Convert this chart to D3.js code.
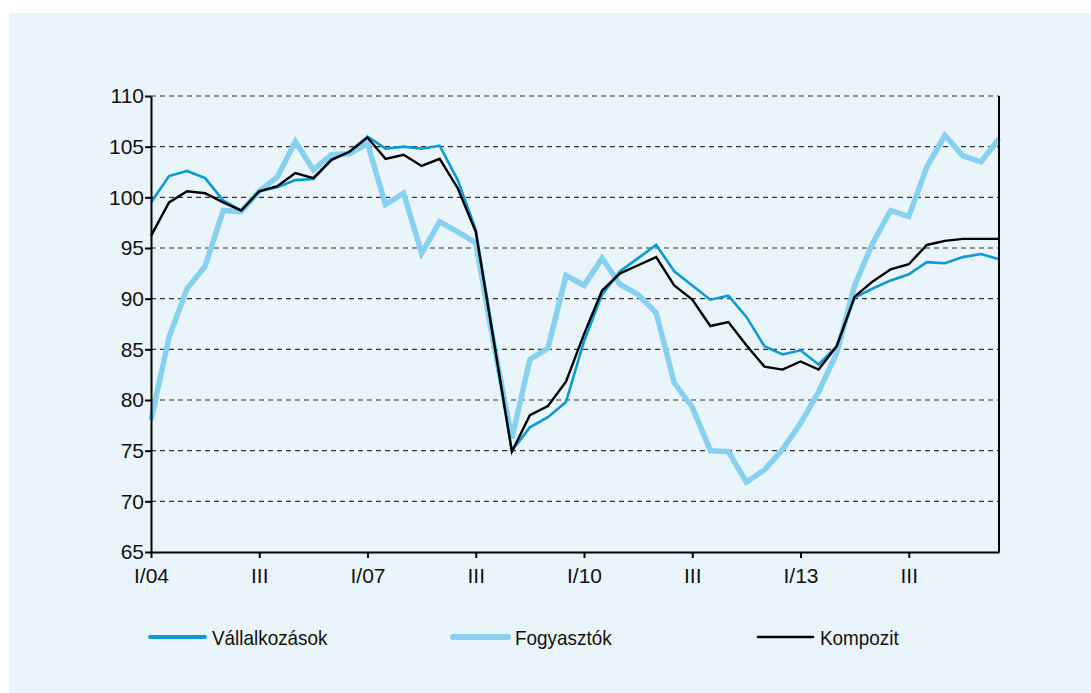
<!DOCTYPE html>
<html>
<head>
<meta charset="utf-8">
<script src="https://cdn.jsdelivr.net/npm/d3@7"></script>
<style>
  html, body { margin: 0; padding: 0; background: #ffffff; }
  svg { display: block; font-family: "Liberation Sans", Arial, sans-serif; }
</style>
</head>
<body>
<svg width="1091" height="693"></svg>
<script>
// Quarterly data, I/2004 - IV/2015
const years = ["04","05","06","07","08","09","10","11","12","13","14","15"];
const quarterNames = ["I", "II", "III", "IV"];
const quarters = [];
years.forEach(y => quarterNames.forEach(q => quarters.push(q + "/" + y)));

const tickQuarters = ["I/04", "III/05", "I/07", "III/08", "I/10", "III/11", "I/13", "III/14"];
const tickLabels = ["I/04", "III", "I/07", "III", "I/10", "III", "I/13", "III"];
const yTicks = [65, 70, 75, 80, 85, 90, 95, 100, 105, 110];

const vallalkozasok = [99.5, 102.1, 102.6, 101.9, 99.7, 98.7, 100.6, 101.0, 101.7, 101.8,
    103.7, 104.5, 106.0, 104.8, 105.0, 104.8, 105.1, 101.7, 96.8, 85.9,
    75.0, 77.3, 78.3, 79.8, 85.8, 90.4, 92.7, 94.0, 95.3, 92.7,
    91.3, 89.9, 90.3, 88.2, 85.3, 84.5, 84.9, 83.5, 85.3, 90.1,
    91.0, 91.8, 92.4, 93.6, 93.5, 94.1, 94.4, 93.9];

const fogyasztok = [78.0, 86.2, 91.0, 93.2, 98.7, 98.6, 100.6, 102.0, 105.5, 102.7,
    104.2, 104.3, 105.3, 99.3, 100.4, 94.5, 97.6, 96.6, 95.5, 85.5,
    76.2, 84.0, 85.1, 92.3, 91.3, 94.0, 91.4, 90.4, 88.6, 81.7,
    79.3, 75.0, 74.9, 71.9, 73.1, 75.1, 77.7, 80.8, 84.6, 91.3,
    95.5, 98.7, 98.1, 103.0, 106.1, 104.1, 103.5, 105.8];

const kompozit = [96.2, 99.5, 100.6, 100.4, 99.5, 98.7, 100.6, 101.1, 102.4, 101.9,
    103.7, 104.5, 105.9, 103.8, 104.2, 103.1, 103.8, 100.9, 96.6, 85.8,
    74.9, 78.5, 79.4, 81.8, 86.5, 90.8, 92.5, 93.3, 94.1, 91.3,
    89.9, 87.3, 87.7, 85.4, 83.3, 83.0, 83.8, 83.0, 85.3, 90.2,
    91.7, 92.9, 93.4, 95.3, 95.7, 95.9, 95.9, 95.9];

const series = [
    { name: "Fogyasztók", values: fogyasztok, color: "#86d0f1", width: 5.5, legendWidth: 6 },
    { name: "Vállalkozások", values: vallalkozasok, color: "#0a9ad6", width: 2.6, legendWidth: 4 },
    { name: "Kompozit", values: kompozit, color: "#000000", width: 2.4, legendWidth: 2.6 }
];

const svg = d3.select("svg");

// light blue panel
svg.append("rect")
    .attr("x", 9).attr("y", 13)
    .attr("width", 1091 - 9).attr("height", 693 - 13)
    .attr("fill", "#eaf4fb");

const plotLeft = 151, plotRight = 999, plotTop = 96, plotBottom = 552;

const x = d3.scalePoint().domain(quarters).range([plotLeft, plotRight]);
const y = d3.scaleLinear().domain([65, 110]).range([plotBottom, plotTop]);

// dashed grid
svg.append("g")
    .selectAll("line")
    .data(yTicks.filter(d => d > 65))
    .join("line")
    .attr("x1", plotLeft).attr("x2", plotRight)
    .attr("y1", d => y(d)).attr("y2", d => y(d))
    .attr("stroke", "#333")
    .attr("stroke-width", 1.2)
    .attr("stroke-dasharray", "5,4");

// lines
const line = d3.line()
    .x((d, i) => x(quarters[i]))
    .y(d => y(d));

svg.append("g")
    .selectAll("path")
    .data(series)
    .join("path")
    .attr("d", d => line(d.values))
    .attr("fill", "none")
    .attr("stroke", d => d.color)
    .attr("stroke-width", d => d.width)
    .attr("stroke-linejoin", "miter");

// right frame line
svg.append("line")
    .attr("x1", plotRight).attr("x2", plotRight)
    .attr("y1", plotTop).attr("y2", plotBottom)
    .attr("stroke", "#000").attr("stroke-width", 2);

// y axis
const yAxis = svg.append("g")
    .attr("transform", `translate(${plotLeft},0)`)
    .call(d3.axisLeft(y).tickValues(yTicks).tickSize(6).tickPadding(1).tickSizeOuter(0));
yAxis.select(".domain").attr("stroke", "#000").attr("stroke-width", 2);
yAxis.selectAll(".tick line").attr("stroke", "#000").attr("stroke-width", 2);
yAxis.selectAll("text")
    .attr("font-size", 21)
    .attr("fill", "#111")
    .attr("font-family", "'Liberation Sans', Arial, sans-serif");

// x axis
const xAxis = svg.append("g")
    .attr("transform", `translate(0,${plotBottom})`)
    .call(d3.axisBottom(x)
        .tickValues(tickQuarters)
        .tickFormat((d, i) => tickLabels[i])
        .tickSize(6).tickPadding(10).tickSizeOuter(0));
xAxis.select(".domain").attr("stroke", "#000").attr("stroke-width", 2);
xAxis.selectAll(".tick line").attr("stroke", "#000").attr("stroke-width", 2);
xAxis.selectAll("text")
    .attr("font-size", 21)
    .attr("fill", "#111")
    .attr("font-family", "'Liberation Sans', Arial, sans-serif");

// legend (text slightly condensed like the original)
const legendItems = [
    { s: series[1], x: 150 },
    { s: series[0], x: 453 },
    { s: series[2], x: 758 }
];
const legend = svg.append("g").attr("transform", "translate(0,637)");
const li = legend.selectAll("g").data(legendItems).join("g")
    .attr("transform", d => `translate(${d.x},0)`);
li.append("line")
    .attr("x1", 0).attr("x2", 55)
    .attr("stroke", d => d.s.color)
    .attr("stroke-width", d => d.s.legendWidth)
    .attr("stroke-linecap", "round");
li.append("g")
    .attr("transform", "translate(62,8) scale(0.9,1)")
    .append("text")
    .attr("font-size", 21)
    .attr("fill", "#111")
    .text(d => d.s.name);
</script>
</body>
</html>
